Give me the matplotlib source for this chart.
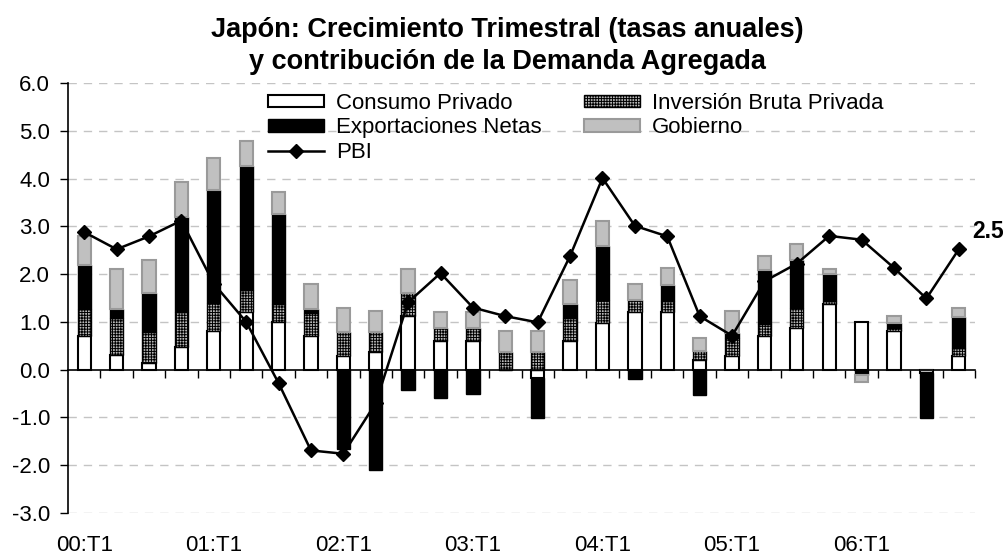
import numpy as np
import matplotlib
matplotlib.use("Agg")
import matplotlib.pyplot as plt
from matplotlib.lines import Line2D
from matplotlib.patches import Patch

plt.rcParams['font.family'] = ['Liberation Sans', 'DejaVu Sans']
plt.rcParams['hatch.linewidth'] = 0.7

quarters = [f"{y:02d}:T{q}" for y in range(0, 7) for q in range(1, 5)]
tick_labels = ["00:T1", "01:T1", "02:T1", "03:T1", "04:T1", "05:T1", "06:T1"]

consumo = [0.71, 0.30, 0.13, 0.48, 0.80, 1.20, 0.99, 0.71, 0.29, 0.38, 1.12, 0.61, 0.61, 0.00,
           -0.17, 0.61, 0.98, 1.21, 1.20, 0.20, 0.29, 0.71, 0.88, 1.38, 0.99, 0.80, -0.07, 0.29]
inversion = [0.57, 0.79, 0.65, 0.72, 0.59, 0.47, 0.39, 0.48, 0.50, 0.41, 0.48, 0.26, 0.26, 0.38,
             0.38, 0.48, 0.48, 0.25, 0.24, 0.20, 0.38, 0.25, 0.41, 0.06, -0.03, 0.07, 0.00, 0.16]
exportaciones = [0.92, 0.19, 0.82, 1.99, 2.38, 2.60, 1.88, 0.09, -1.67, -2.09, -0.42, -0.59, -0.51, 0.00,
                 -0.84, 0.28, 1.13, -0.20, 0.34, -0.52, 0.10, 1.13, 1.01, 0.57, -0.09, 0.11, -0.94, 0.65]
gobierno = [0.60, 0.83, 0.70, 0.74, 0.66, 0.52, 0.45, 0.52, 0.50, 0.43, 0.51, 0.34, 0.34, 0.42,
            0.42, 0.51, 0.53, 0.34, 0.35, 0.26, 0.45, 0.29, 0.32, 0.10, -0.14, 0.15, 0.00, 0.19]
pbi = [2.88, 2.52, 2.79, 3.12, 1.80, 1.00, -0.28, -1.69, -1.76, -0.70, 1.41, 2.02, 1.30, 1.12,
       0.99, 2.38, 4.01, 3.01, 2.79, 1.12, 0.71, 1.85, 2.22, 2.80, 2.72, 2.13, 1.49, 2.52]

W, H = 1004, 557
FS = 16
fig = plt.figure(figsize=(W / 100, H / 100), dpi=100)
ax = fig.add_axes([68 / W, 1 - 513 / H, (975 - 68) / W, (513 - 83) / H])

x = np.arange(len(quarters))
styles = [
    dict(facecolor='white', edgecolor='black', linewidth=1.5),
    dict(facecolor='#b8b8b8', edgecolor='black', linewidth=1.0, hatch='++++++'),
    dict(facecolor='black', edgecolor='black', linewidth=1.0),
    dict(facecolor='#c0c0c0', edgecolor='#9a9a9a', linewidth=1.5),
]
series = [consumo, inversion, exportaciones, gobierno]
pos_bottom = np.zeros(len(x))
neg_bottom = np.zeros(len(x))
for vals, st in zip(series, styles):
    v = np.array(vals)
    bottoms = np.where(v >= 0, pos_bottom, neg_bottom)
    ax.bar(x, v, bottom=bottoms, width=0.41, zorder=3, **st)
    pos_bottom = pos_bottom + np.where(v >= 0, v, 0)
    neg_bottom = neg_bottom + np.where(v < 0, v, 0)

ax.plot(x, pbi, color='black', linewidth=1.8, marker='D', markersize=7.5,
        markerfacecolor='black', markeredgecolor='black', zorder=4)
ax.annotate("2.5", (x[-1], pbi[-1]), xytext=(10, 13), textcoords='offset points',
            fontsize=16.5, fontweight='bold', ha='left', va='center')

ax.set_xlim(-0.5, len(x) - 0.5)
ax.set_ylim(-3.0, 6.0)
ax.set_yticks(np.arange(-3, 7, 1.0))
ax.set_yticklabels([f"{v:.1f}" for v in np.arange(-3, 7, 1.0)], fontsize=FS)
ax.tick_params(axis='y', direction='out', length=6, width=1, pad=7)

for yv in np.arange(-3, 7, 1.0):
    if yv != 0:
        ax.axhline(yv, color='#c4c4c4', linewidth=1, linestyle=(0, (6, 5)), zorder=1)

for s in ['top', 'right']:
    ax.spines[s].set_visible(False)
ax.spines['left'].set_linewidth(1.2)
ax.spines['bottom'].set_position(('data', 0))
ax.spines['bottom'].set_linewidth(1.2)
ax.spines['bottom'].set_zorder(5)
ax.set_xticks(np.arange(0.5, len(x), 1.0))
ax.set_xticklabels([])
ax.tick_params(axis='x', direction='out', length=6, width=1)

sec = ax.secondary_xaxis(0)
sec.set_xticks([quarters.index(t) for t in tick_labels])
sec.set_xticklabels(tick_labels, fontsize=FS)
sec.tick_params(length=0, pad=16)
sec.spines['bottom'].set_visible(False)

handles = [
    Patch(**styles[0], label='Consumo Privado'),
    Patch(**styles[2], label='Exportaciones Netas'),
    Line2D([], [], color='black', linewidth=1.8, marker='D', markersize=7.5, label='PBI'),
    Patch(**styles[1], label='Inversión Bruta Privada'),
    Patch(**styles[3], label='Gobierno'),
]
fig.legend(handles=handles, ncol=2, loc='upper left', bbox_to_anchor=(268 / W, 1 - 93 / H),
           frameon=False, fontsize=FS, handlelength=2.5, handleheight=0.5, handletextpad=0.55,
           columnspacing=1.92, labelspacing=0.15, borderpad=0, borderaxespad=0)

fig.text(0.505, 1 - 30 / H, "Japón: Crecimiento Trimestral (tasas anuales)", ha='center', va='center',
         fontsize=19.5, fontweight='bold')
fig.text(0.505, 1 - 62 / H, "y contribución de la Demanda Agregada", ha='center', va='center',
         fontsize=19.5, fontweight='bold')

fig.savefig("out.png", dpi=100)
